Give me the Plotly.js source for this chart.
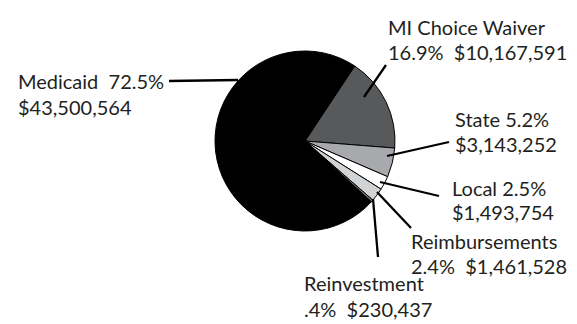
<!DOCTYPE html>
<html><head><meta charset="utf-8">
<script src="https://cdn.plot.ly/plotly-3.0.1.min.js"></script>
<style>html,body{margin:0;padding:0;background:#fff}#c{width:577px;height:324px}</style>
</head><body><div id="c"></div>
<script>
const categories = ["MI Choice Waiver","State","Local","Reimbursements","Reinvestment","Medicaid"];
const amounts = [10167591, 3143252, 1493754, 1461528, 230437, 43500564];
const pctLabels = ["16.9%","5.2%","2.5%","2.4%",".4%","72.5%"];
const amountLabels = ["$10,167,591","$3,143,252","$1,493,754","$1,461,528","$230,437","$43,500,564"];

const colors = ["#58595b","#a7a9ac","#ffffff","#d1d3d4","#808285","#000000"];
const NB = "\u00a0";
const labelLines = [
  [categories[0], pctLabels[0] + NB + NB + amountLabels[0]],
  [categories[1] + " " + pctLabels[1], amountLabels[1]],
  [categories[2] + " " + pctLabels[2], amountLabels[2]],
  [categories[3], pctLabels[3] + NB + NB + amountLabels[3]],
  [categories[4], pctLabels[4] + NB + NB + amountLabels[4]],
  [categories[5] + NB + NB + pctLabels[5], amountLabels[5]]
];
// label placement (pixels: left x, line-1 centre y, line-2 centre y) and leader lines (pixels)
const W = 577, H = 324;
const labelPos = [[387,26.5,51.5],[454,119.5,143.5],[451,187.5,211.5],[410,240.5,265.5],[303,282.5,308.5],[17,80.5,106.5]];
const leaders = [[[386,65],[364,97]],[[449,142],[387,156]],[[439,196],[380,182]],[[411,228],[377,192]],[[378,257],[373,199]],[[169,81],[238,80]]];

const px = x => x / W, py = y => 1 - y / H;
const cx = 305, cy = 141, r = 90;

const annotations = [];
labelLines.forEach((lines, i) => {
  lines.forEach((t, j) => annotations.push({
    text: t, xref: "paper", yref: "paper",
    x: px(labelPos[i][0]), y: py(labelPos[i][1 + j]),
    xanchor: "left", yanchor: "middle", align: "left",
    showarrow: false, borderpad: 0,
    font: {family: "Lato, 'Open Sans', sans-serif", size: 20, color: "#231f20"}
  }));
});
const shapes = leaders.map(l => ({
  type: "line", xref: "paper", yref: "paper",
  x0: px(l[0][0]), y0: py(l[0][1]), x1: px(l[1][0]), y1: py(l[1][1]),
  line: {color: "#000", width: 2.3}
}));

Plotly.newPlot("c", [{
  type: "pie", labels: categories, values: amounts, sort: false,
  direction: "clockwise", rotation: 33.5,
  marker: {colors: colors, line: {color: "#000", width: 1}},
  textinfo: "none", hoverinfo: "none",
  domain: {x: [px(cx - r), px(cx + r)], y: [py(cy + r), py(cy - r)]}
}], {
  width: W, height: H, margin: {l: 0, r: 0, t: 0, b: 0},
  showlegend: false, paper_bgcolor: "#fff",
  annotations: annotations, shapes: shapes
}, {displayModeBar: false, staticPlot: true});
</script></body></html>
